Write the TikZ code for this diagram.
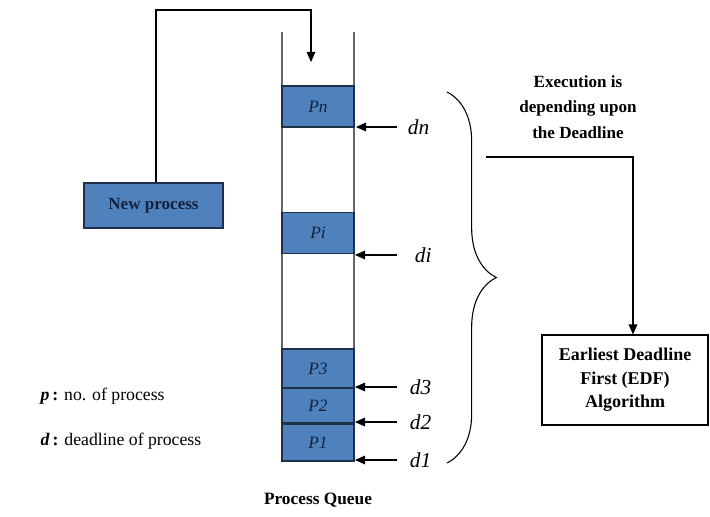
\documentclass[tikz,border=0pt]{standalone}
\usepackage{fontspec}
\setmainfont{Liberation Serif}
\usetikzlibrary{arrows.meta,decorations.pathreplacing}
\definecolor{pblue}{HTML}{4F81BD}
\definecolor{pedge}{HTML}{1F2F4A}
\definecolor{ptext}{HTML}{14213D}
\begin{document}
\begin{tikzpicture}[x=0.75pt,y=-0.75pt,
  line width=0.8pt,
  qbox/.style={draw=pedge,line width=1.1pt,fill=pblue,minimum width=54pt,inner sep=0pt,
    font=\fontsize{13}{15}\selectfont\itshape,text=ptext},
  plainbox/.style={draw=black,line width=0.8pt,align=center,inner sep=0pt},
  dlabel/.style={anchor=west,inner sep=1pt,font=\fontsize{16}{18}\selectfont\itshape},
  arr/.style={-{Triangle[length=7.5pt,width=6.5pt]}},
]
\useasboundingbox (0,0) rectangle (710,517);
% queue tube
\coordinate (tubeLT) at (282,32);
\coordinate (tubeLB) at (282,462);
\coordinate (tubeRT) at (354,32);
\coordinate (tubeRB) at (354,462);
\draw[gray!80!black] (tubeLT) -- (tubeLB);
\draw[gray!80!black] (tubeRT) -- (tubeRB);
% process boxes
\node[qbox,minimum height=30.75pt] (pn) at (318,106.5) {Pn};
\node[qbox,minimum height=30.75pt] (pi) at (318,233) {Pi};
\node[qbox,minimum height=29pt] (p3) at (318,368.5) {P3};
\node[qbox,minimum height=25.5pt] (p2) at (318,405.5) {P2};
\node[qbox,minimum height=27.5pt] (p1) at (318,442.5) {P1};
% new process
\node[qbox,minimum width=104.25pt,minimum height=33.75pt,
  font=\fontsize{12.8}{14}\selectfont\bfseries] (np) at (153.5,205.5) {New process};
\coordinate (c1) at (156,10);
\coordinate (c2) at (311,10);
\coordinate (c3) at (311,62);
\draw[arr] (c1 |- np.north) -- (c1) -- (c2) -- (c3);
% deadline labels
\node[dlabel] (dn) at (406,127) {dn};
\node[dlabel] (di) at (413,255) {di};
\node[dlabel] (d3) at (408,387) {d3};
\node[dlabel] (d2) at (408,422) {d2};
\node[dlabel] (d1) at (408,460) {d1};
\draw[arr] (dn.west) ++(-9,0) -- ++(-41,0);
\draw[arr] (di.west) ++(-16,0) -- ++(-42,0);
\draw[arr] (d3.west) ++(-11,0) -- ++(-42,0);
\draw[arr] (d2.west) ++(-11,0) -- ++(-42,0);
\draw[arr] (d1.west) ++(-11,0) -- ++(-42,0);
% brace
\coordinate (bt) at (447,92);
\coordinate (bb) at (447,463);
\draw[decorate,decoration={brace,amplitude=37pt,aspect=0.5},line width=0.8pt] (bt) -- (bb);
% execution text
\node[align=center,inner sep=0pt,font=\fontsize{12.8}{19}\selectfont\bfseries] (exe) at (578,107)
  {Execution is\\depending upon\\the Deadline};
% EDF box
\node[plainbox,minimum width=124.5pt,minimum height=67.5pt,
  font=\fontsize{13.5}{17.5}\selectfont\bfseries] (edf) at (625,380)
  {Earliest Deadline\\First (EDF)\\Algorithm};
\coordinate (e1) at (486,157);
\coordinate (e2) at (633,157);
\draw[arr] (e1) -- (e2) -- (e2 |- edf.north);
% legend
\node[anchor=west,inner sep=0pt,font=\fontsize{13.3}{15}\selectfont] (lp) at (40,396)
  {\textbf{\textit{p}}\,\textbf{:} no. of process};
\node[anchor=west,inner sep=0pt,font=\fontsize{13.3}{15}\selectfont] (ld) at (40,441)
  {\textbf{\textit{d}}\,\textbf{:} deadline of process};
% caption
\node[font=\fontsize{13}{15}\selectfont\bfseries] (pq) at (318,500) {Process Queue};
\end{tikzpicture}
\end{document}
